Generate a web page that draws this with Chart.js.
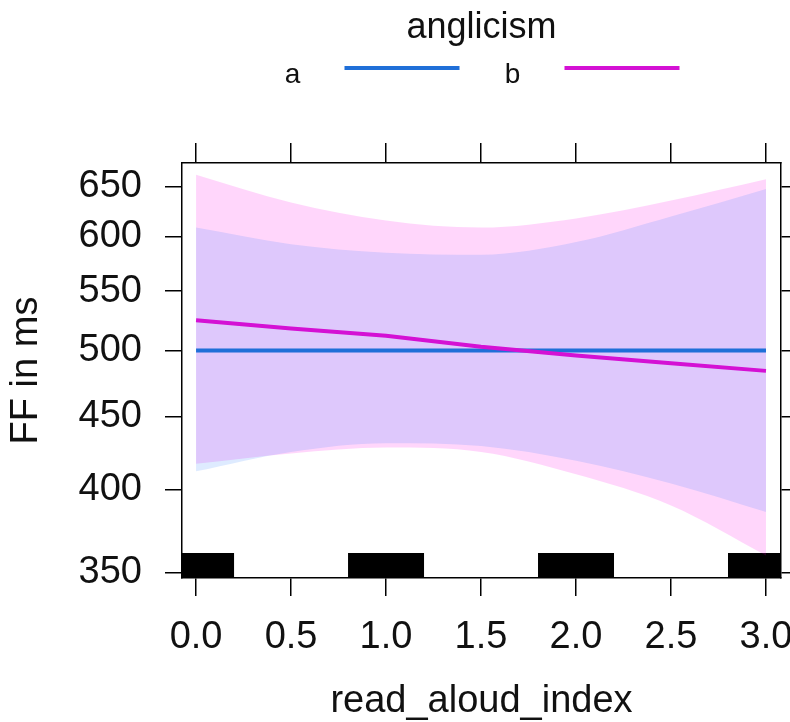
<!DOCTYPE html>
<html lang="en">
<head>
  <meta charset="UTF-8">
  <title>FF by read_aloud_index and anglicism</title>
  <script src="https://cdn.jsdelivr.net/npm/chart.js@4.4.0/dist/chart.umd.min.js"></script>
  <style>
    body { margin: 0; background: #fff; }
    .chart-box { position: relative; width: 790px; height: 722px; }
  </style>
</head>
<body>
  <div class="chart-box"><canvas id="effectChart"></canvas></div>

  <script>
    const xValues = [0, 0.5, 1, 1.5, 2, 2.5, 3];

    // anglicism a: fit and confidence band (FF in ms)
    const fitA   = [500, 500, 500, 500, 500, 500, 500];
    const lowerA = [412, 425, 431, 429, 419, 404, 386];
    const upperA = [609, 593, 585, 583, 595, 620, 648];

    // anglicism b: fit and confidence band (FF in ms)
    const fitB   = [525, 518, 512, 503, 496, 490, 484];
    const lowerB = [417, 424, 428, 425, 410, 390, 360];
    const upperB = [663, 634, 616, 609, 618, 636, 658];

    // rug: observed read_aloud_index values, jittered +/- 0.2
    const rugValues = [0, 1, 2, 3];
    const rugJitter = 0.2;

    const groups = ['a', 'b'];
    const xTicks = [0, 0.5, 1, 1.5, 2, 2.5, 3];
    const yTicks = [350, 400, 450, 500, 550, 600, 650];

    const family = '"Liberation Sans", Arial, sans-serif';
    const lineColors = ['#1f6fd8', '#d411d4'];
    const bandColors = ['rgba(0, 100, 255, 0.13)', 'rgba(255, 0, 230, 0.16)'];

    Chart.defaults.font.family = family;

    const toPoints = ys => xValues.map((x, i) => ({ x: x, y: ys[i] }));

    // black rug along the bottom of the panel (drawn under the bands)
    const rugPlugin = {
      id: 'rug',
      beforeDatasetsDraw(chart) {
        const { ctx, chartArea } = chart;
        const xs = chart.scales.x;
        ctx.save();
        ctx.beginPath();
        ctx.rect(chartArea.left, chartArea.top, chartArea.width, chartArea.height);
        ctx.clip();
        ctx.fillStyle = '#000';
        rugValues.forEach(v => {
          const x0 = xs.getPixelForValue(v - rugJitter);
          const x1 = xs.getPixelForValue(v + rugJitter);
          ctx.fillRect(x0, chartArea.bottom - 25, x1 - x0, 25);
        });
        ctx.restore();
      }
    };

    // lattice style key: title on top, "label ----" pairs below
    const keyPlugin = {
      id: 'anglicismKey',
      afterDraw(chart) {
        const { ctx, chartArea } = chart;
        const mid = (chartArea.left + chartArea.right) / 2;
        ctx.save();
        ctx.fillStyle = '#111';
        ctx.textAlign = 'center';
        ctx.textBaseline = 'alphabetic';
        ctx.font = '36px ' + family;
        ctx.fillText('anglicism', mid, 38);
        ctx.font = '28px ' + family;
        const offsets = [-189, 31];
        groups.forEach((g, i) => {
          const lx = mid + offsets[i];
          ctx.fillText(g, lx, 83);
          ctx.strokeStyle = lineColors[i];
          ctx.lineWidth = 4;
          ctx.beginPath();
          ctx.moveTo(lx + 52, 68);
          ctx.lineTo(lx + 167, 68);
          ctx.stroke();
        });
        ctx.restore();
      }
    };

    const frameGrid = tickLength => ({ drawOnChartArea: false, color: '#000', lineWidth: 1.5, tickLength: tickLength });
    const frameBorder = { display: true, color: '#000', width: 1.5 };
    const xMin = -0.074, xMax = 3.079;
    const yMin = 347.2, yMax = 675.5;

    new Chart(document.getElementById('effectChart'), {
      type: 'line',
      data: {
        datasets: [
          { label: 'b upper', data: toPoints(upperB), fill: '+1', backgroundColor: bandColors[1], borderWidth: 0, pointRadius: 0, cubicInterpolationMode: 'monotone', order: 6, xAxisID: 'x', yAxisID: 'y' },
          { label: 'b lower', data: toPoints(lowerB), fill: false, borderWidth: 0, pointRadius: 0, cubicInterpolationMode: 'monotone', order: 6, xAxisID: 'x', yAxisID: 'y' },
          { label: 'a upper', data: toPoints(upperA), fill: '+1', backgroundColor: bandColors[0], borderWidth: 0, pointRadius: 0, cubicInterpolationMode: 'monotone', order: 5, xAxisID: 'x', yAxisID: 'y' },
          { label: 'a lower', data: toPoints(lowerA), fill: false, borderWidth: 0, pointRadius: 0, cubicInterpolationMode: 'monotone', order: 5, xAxisID: 'x', yAxisID: 'y' },
          { label: groups[0], data: toPoints(fitA), borderColor: lineColors[0], borderWidth: 4, pointRadius: 0, fill: false, order: 2, xAxisID: 'x', yAxisID: 'y' },
          { label: groups[1], data: toPoints(fitB), borderColor: lineColors[1], borderWidth: 4, pointRadius: 0, fill: false, order: 1, xAxisID: 'x', yAxisID: 'y' }
        ]
      },
      options: {
        responsive: true,
        maintainAspectRatio: false,
        animation: false,
        events: [],
        plugins: { legend: { display: false }, tooltip: { enabled: false } },
        scales: {
          x: {
            type: 'linear', position: 'bottom', min: xMin, max: xMax,
            afterBuildTicks: s => { s.ticks = xTicks.map(v => ({ value: v })); },
            afterFit: s => { s.height = 144; s.paddingLeft = 0; s.paddingRight = 0; },
            grid: frameGrid(18),
            border: frameBorder,
            ticks: { font: { size: 38 }, color: '#111', padding: 19, maxRotation: 0, autoSkip: false, callback: v => v.toFixed(1) },
            title: { display: true, text: 'read_aloud_index', color: '#111', font: { size: 38, lineHeight: 1 }, padding: { top: 0, bottom: 1 } }
          },
          x2: {
            type: 'linear', position: 'top', min: xMin, max: xMax,
            afterBuildTicks: s => { s.ticks = xTicks.map(v => ({ value: v })); },
            afterFit: s => { s.height = 163; s.paddingLeft = 0; s.paddingRight = 0; },
            grid: frameGrid(20),
            border: frameBorder,
            ticks: { padding: 0, autoSkip: false, maxRotation: 0, callback: () => '' }
          },
          y: {
            type: 'logarithmic', position: 'left', min: yMin, max: yMax,
            afterBuildTicks: s => { s.ticks = yTicks.map(v => ({ value: v })); },
            afterFit: s => { s.width = 182; s.paddingTop = 0; s.paddingBottom = 0; },
            grid: frameGrid(17),
            border: frameBorder,
            ticks: { font: { size: 38 }, color: '#111', padding: 23, autoSkip: false, callback: v => String(v) },
            title: { display: true, text: 'FF in ms', color: '#111', font: { size: 38, lineHeight: 1 }, padding: { top: 8, bottom: 0 } }
          },
          y2: {
            type: 'logarithmic', position: 'right', min: yMin, max: yMax,
            afterBuildTicks: s => { s.ticks = yTicks.map(v => ({ value: v })); },
            afterFit: s => { s.width = 9; s.paddingTop = 0; s.paddingBottom = 0; },
            grid: frameGrid(9),
            border: frameBorder,
            ticks: { padding: 0, autoSkip: false, callback: () => '' }
          }
        }
      },
      plugins: [rugPlugin, keyPlugin]
    });
  </script>
</body>
</html>
